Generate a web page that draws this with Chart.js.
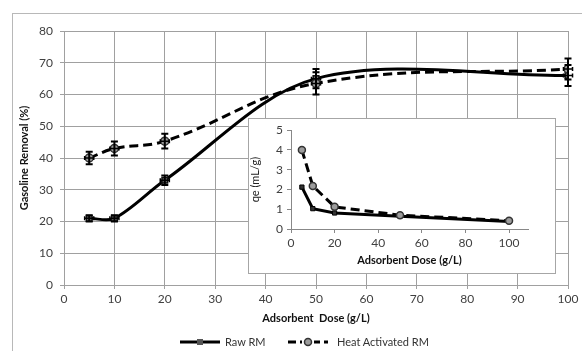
<!DOCTYPE html>
<html>
<head>
<meta charset="utf-8">
<script src="https://cdn.jsdelivr.net/npm/chart.js@4.4.1/dist/chart.umd.min.js"></script>
<style>
  html, body { margin: 0; padding: 0; background: #fff; }
  #wrap { position: relative; width: 582px; height: 351px; overflow: hidden; font-family: Lato, sans-serif; }
  #frame { position: absolute; left: 12px; top: 13px; width: 620px; height: 400px; border: 1px solid #b8b8b8; }
  #mainChart { position: absolute; left: 0; top: 0; }
  #inset { position: absolute; left: 248px; top: 118px; width: 306px; height: 154px; border: 1px solid #a6a6a6; background: #fff; }
  #insetChart { display: block; }
  .leg-icon { position: absolute; top: 337px; }
  .leg-text { position: absolute; top: 335px; font-size: 11px; color: #333; line-height: 13px; white-space: pre; }
</style>
</head>
<body>
<div id="wrap">
  <div id="frame"></div>
  <canvas id="mainChart" width="582" height="351"></canvas>
  <div id="inset"><canvas id="insetChart" width="306" height="154"></canvas></div>
</div>
<script>
// values
const doses = [5, 10, 20, 50, 100];
const rawRemoval = [21, 21, 33, 65, 66];
const rawErr = [1, 1, 1.5, 3, 3.3];
const heatRemoval = [40, 43, 45.3, 63.5, 68];
const heatErr = [2, 2.2, 2.3, 3.5, 3.3];
const doseErr = [0.9, 0.9, 0.9, 0.9, 0.9];
const rawQe = [2.12, 1.03, 0.81, 0.65, 0.38];
const heatQe = [4.0, 2.18, 1.12, 0.7, 0.42];
const seriesNames = ['Raw RM', 'Heat Activated RM'];
const mainXTitle = 'Adsorbent  Dose (g/L)';
const mainYTitle = 'Gasoline Removal (%)';
const insetXTitle = 'Adsorbent Dose (g/L)';
const insetYTitle = 'qe (mL/g)';

const toPoints = (xs, ys) => xs.map((x, i) => ({ x: x, y: ys[i] }));

const tickFont = { family: 'Lato', size: 12 };
const titleFont = { family: 'Lato', size: 11, weight: 'bold' };

// error bars drawn through the chart's own scales
const errorBars = {
  id: 'errorBars',
  afterDatasetsDraw(chart) {
    const ctx = chart.ctx;
    const xs = chart.scales.x, ys = chart.scales.y;
    ctx.save();
    ctx.strokeStyle = '#000';
    chart.data.datasets.forEach(ds => {
      if (!ds.yErr) return;
      ds.data.forEach((p, j) => {
        const px = xs.getPixelForValue(p.x);
        const py = ys.getPixelForValue(p.y);
        const top = ys.getPixelForValue(p.y + ds.yErr[j]);
        const bot = ys.getPixelForValue(p.y - ds.yErr[j]);
        const left = xs.getPixelForValue(p.x - ds.xErr[j]);
        const right = xs.getPixelForValue(p.x + ds.xErr[j]);
        ctx.lineWidth = 2;
        ctx.beginPath();
        ctx.moveTo(px, top); ctx.lineTo(px, bot);
        ctx.moveTo(px - 3.5, top); ctx.lineTo(px + 3.5, top);
        ctx.moveTo(px - 3.5, bot); ctx.lineTo(px + 3.5, bot);
        ctx.stroke();
        ctx.lineWidth = 1.5;
        ctx.beginPath();
        ctx.moveTo(left, py); ctx.lineTo(right, py);
        ctx.moveTo(left, py - 2); ctx.lineTo(left, py + 2);
        ctx.moveTo(right, py - 2); ctx.lineTo(right, py + 2);
        ctx.stroke();
      });
    });
    ctx.restore();
  }
};

new Chart(document.getElementById('mainChart'), {
  type: 'line',
  data: {
    datasets: [{
      label: seriesNames[1],
      data: toPoints(doses, heatRemoval),
      yErr: heatErr, xErr: doseErr,
      borderColor: '#000', borderWidth: 3, borderDash: [9, 5], tension: 0.4,
      pointStyle: 'circle', pointRadius: 4,
      pointBackgroundColor: '#9c9c9c', pointBorderColor: '#333', pointBorderWidth: 1.5
    }, {
      label: seriesNames[0],
      data: toPoints(doses, rawRemoval),
      yErr: rawErr, xErr: doseErr,
      borderColor: '#000', borderWidth: 3, tension: 0.33,
      pointStyle: 'rect', pointRadius: 4,
      pointBackgroundColor: '#707070', pointBorderColor: '#111', pointBorderWidth: 1.5
    }]
  },
  options: {
    responsive: false,
    animation: false,
    layout: { padding: { left: 14, right: 14, top: 31, bottom: 22 } },
    plugins: { legend: { display: false }, tooltip: { enabled: false } },
    scales: {
      x: {
        type: 'linear', min: 0, max: 100,
        afterFit: s => { s.height = 44; },
        ticks: { stepSize: 10, padding: 3, color: '#404040', font: tickFont },
        grid: { color: '#a0a0a0', tickLength: 4 },
        border: { color: '#a0a0a0' },
        title: { display: true, text: mainXTitle, color: '#111', font: titleFont, padding: { top: 4, bottom: 4 } }
      },
      y: {
        min: 0, max: 80,
        afterFit: s => { s.width = 50; },
        ticks: { stepSize: 10, padding: 7, color: '#404040', font: tickFont },
        grid: { color: '#a0a0a0', tickLength: 4 },
        border: { color: '#a0a0a0' },
        title: { display: true, text: mainYTitle, color: '#111', font: titleFont, padding: { top: 4, bottom: 4 } }
      }
    }
  },
  plugins: [errorBars]
});

new Chart(document.getElementById('insetChart'), {
  type: 'line',
  data: {
    datasets: [{
      label: seriesNames[1],
      data: toPoints(doses, heatQe),
      borderColor: '#000', borderWidth: 3, borderDash: [9, 5], tension: 0,
      pointStyle: 'circle', pointRadius: 3.5,
      pointBackgroundColor: '#9c9c9c', pointBorderColor: '#333', pointBorderWidth: 1.5
    }, {
      label: seriesNames[0],
      data: toPoints(doses, rawQe),
      borderColor: '#000', borderWidth: 3, tension: 0,
      pointStyle: 'rect', pointRadius: 3,
      pointBackgroundColor: '#333', pointBorderColor: '#000', pointBorderWidth: 1
    }]
  },
  options: {
    responsive: false,
    animation: false,
    layout: { padding: { left: 0, right: 27, top: 11, bottom: 0 } },
    plugins: { legend: { display: false }, tooltip: { enabled: false } },
    scales: {
      x: {
        type: 'linear', min: 0, max: 108.7, bounds: 'data',
        afterFit: s => { s.height = 44; },
        ticks: { stepSize: 20, includeBounds: false, padding: 3, color: '#404040', font: tickFont },
        grid: { drawOnChartArea: false, color: '#888', tickLength: 4 },
        border: { color: '#888' },
        title: { display: true, text: insetXTitle, color: '#111', font: titleFont, padding: { top: 2, bottom: 6 } }
      },
      y: {
        min: 0, max: 5,
        afterFit: s => { s.width = 42; },
        ticks: { stepSize: 1, padding: 4, color: '#404040', font: tickFont },
        grid: { drawOnChartArea: false, color: '#888', tickLength: 4 },
        border: { color: '#888' },
        title: { display: true, text: insetYTitle, color: '#222', font: { family: 'Lato', size: 11 }, padding: { top: 0, bottom: 4 } }
      }
    }
  }
});

// legend below the axis title
const legendItems = [
  { name: seriesNames[0], iconX: 180, textX: 225, dash: [], marker: 'rect' },
  { name: seriesNames[1], iconX: 288, textX: 337, dash: [8, 4], marker: 'circle' }
];
const wrap = document.getElementById('wrap');
legendItems.forEach(item => {
  const c = document.createElement('canvas');
  c.width = 40; c.height = 10;
  c.className = 'leg-icon';
  c.style.left = item.iconX + 'px';
  const g = c.getContext('2d');
  g.strokeStyle = '#000';
  g.lineWidth = 3;
  g.setLineDash(item.dash);
  g.beginPath(); g.moveTo(0, 5); g.lineTo(40, 5); g.stroke();
  g.setLineDash([]);
  g.lineWidth = 1.5;
  if (item.marker === 'circle') {
    g.fillStyle = '#fff';
    g.fillRect(14, 0, 12, 10);
    g.fillStyle = '#9c9c9c';
    g.beginPath(); g.arc(20, 5, 3.5, 0, Math.PI * 2); g.fill();
    g.strokeStyle = '#333'; g.stroke();
  } else {
    g.fillStyle = '#555';
    g.fillRect(17, 2, 6, 6);
  }
  wrap.appendChild(c);
  const t = document.createElement('span');
  t.className = 'leg-text';
  t.style.left = item.textX + 'px';
  t.textContent = item.name;
  wrap.appendChild(t);
});
</script>
</body>
</html>
